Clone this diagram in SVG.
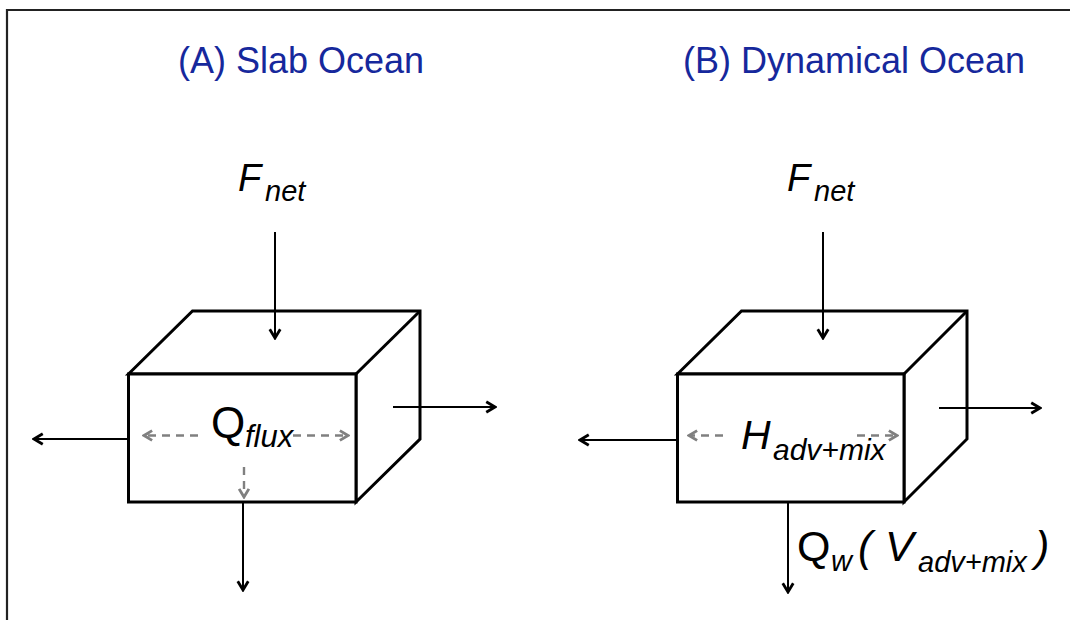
<svg xmlns="http://www.w3.org/2000/svg" width="1070" height="620" viewBox="0 0 1070 620">
<defs>
<style>
.title{font-family:"Liberation Sans",Arial,sans-serif;font-size:36px;fill:#16289c}
.lbl{font-family:"Liberation Sans",Arial,sans-serif;fill:#000}
.it{font-style:italic}
.box{fill:#fff;stroke:#000;stroke-width:3;stroke-linejoin:miter}
.arr{stroke:#000;stroke-width:2;fill:none}
.dash{stroke:#808080;stroke-width:2.4;fill:none;stroke-dasharray:8,6}
</style>
<marker id="ah" viewBox="0 0 12 12" refX="10" refY="6" markerWidth="14" markerHeight="14" markerUnits="userSpaceOnUse" orient="auto">
<path d="M2.5,1.5 L10,6 L2.5,10.5" fill="none" stroke="#000" stroke-width="2.4"/>
</marker>
<marker id="ahg" viewBox="0 0 12 12" refX="10" refY="6" markerWidth="13" markerHeight="13" markerUnits="userSpaceOnUse" orient="auto">
<path d="M2.5,1.5 L10,6 L2.5,10.5" fill="none" stroke="#808080" stroke-width="2.6"/>
</marker>
</defs>
<rect width="1070" height="620" fill="#fff"/>
<path d="M7,620 V10 H1070" fill="none" stroke="#222" stroke-width="2.2"/>

<g id="titleA"><text class="title" x="178" y="73" textLength="246" lengthAdjust="spacingAndGlyphs">(A) Slab Ocean</text></g>
<g id="titleB"><text class="title" x="683" y="73" textLength="342" lengthAdjust="spacingAndGlyphs">(B) Dynamical Ocean</text></g>

<g id="boxA">
<path class="box" d="M128.5,374 L192.5,311 L420,311 L420,439 L356,502 L356,374 Z"/>
<path class="box" d="M356,374 L420,311" fill="none"/>
<rect class="box" x="128.5" y="374" width="227.5" height="128"/>
</g>
<g id="boxB">
<path class="box" d="M677.5,374 L741.5,311 L967,311 L967,439 L904,502 L904,374 Z"/>
<path class="box" d="M904,374 L967,311" fill="none"/>
<rect class="box" x="677.5" y="374" width="226.5" height="128"/>
</g>

<g id="connectors">
<line class="arr" x1="275" y1="232" x2="275" y2="338" marker-end="url(#ah)"/>
<line class="arr" x1="128" y1="439" x2="34" y2="439" marker-end="url(#ah)"/>
<line class="arr" x1="393" y1="407" x2="495" y2="407" marker-end="url(#ah)"/>
<line class="arr" x1="243" y1="502" x2="243" y2="590" marker-end="url(#ah)"/>
<line class="dash" x1="198" y1="435.5" x2="144" y2="435.5" marker-end="url(#ahg)"/>
<line class="dash" x1="293" y1="435.5" x2="348" y2="435.5" marker-end="url(#ahg)"/>
<line class="dash" x1="244" y1="467" x2="244" y2="497" marker-end="url(#ahg)"/>

<line class="arr" x1="823" y1="232" x2="823" y2="338" marker-end="url(#ah)"/>
<line class="arr" x1="677" y1="440" x2="580" y2="440" marker-end="url(#ah)"/>
<line class="arr" x1="939" y1="408" x2="1040" y2="408" marker-end="url(#ah)"/>
<line class="arr" x1="788" y1="502" x2="788" y2="592" marker-end="url(#ah)"/>
<line class="dash" x1="723" y1="435.5" x2="689" y2="435.5" marker-end="url(#ahg)"/>
<line class="dash" x1="857" y1="435.5" x2="897" y2="435.5" marker-end="url(#ahg)"/>
</g>

<g id="labelFnetA"><text class="lbl it"><tspan x="238" y="191" font-size="38">F</tspan><tspan x="265" y="201" font-size="29">net</tspan></text></g>
<g id="labelFnetB"><text class="lbl it"><tspan x="787" y="191" font-size="38">F</tspan><tspan x="814" y="201" font-size="29">net</tspan></text></g>
<g id="labelQflux"><text class="lbl"><tspan x="211" y="438" font-size="44">Q</tspan><tspan class="it" x="245" y="447" font-size="31">flux</tspan></text></g>
<g id="labelH"><text class="lbl it"><tspan x="741" y="449" font-size="41">H</tspan><tspan x="773" y="460" font-size="30">adv+mix</tspan></text></g>
<g id="labelQw"><text class="lbl"><tspan x="797" y="561" font-size="43">Q</tspan><tspan class="it" x="831" y="571" font-size="29">w</tspan><tspan class="it" x="858" y="561" font-size="43">(</tspan><tspan class="it" x="885" y="561" font-size="43">V</tspan><tspan class="it" x="918" y="572" font-size="29">adv+mix</tspan><tspan class="it" x="1035" y="561" font-size="43">)</tspan></text></g>
</svg>
